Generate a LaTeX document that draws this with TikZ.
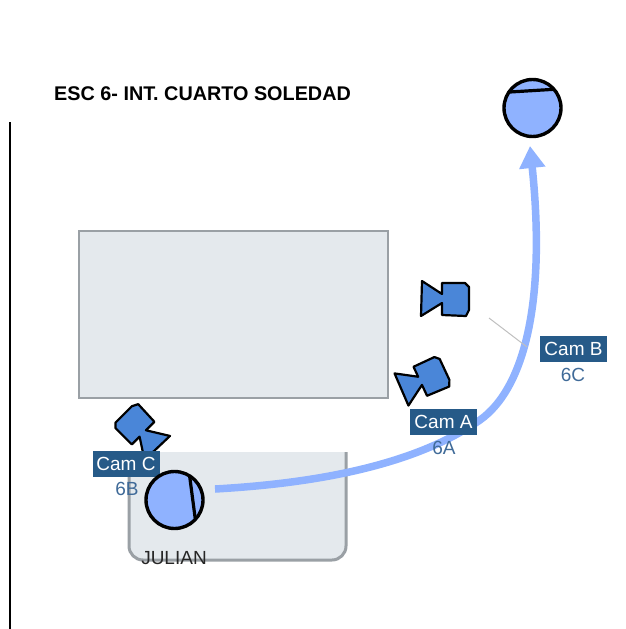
\documentclass[tikz,border=0pt]{standalone}
\usepackage{fontspec}
\setmainfont{Liberation Sans}
\usetikzlibrary{arrows.meta}
\definecolor{setgrey}{HTML}{E4E9ED}
\definecolor{setedge}{HTML}{9AA0A5}
\definecolor{actorblue}{HTML}{8FB2FF}
\definecolor{camblue}{HTML}{4A86D8}
\definecolor{labelblue}{HTML}{265A88}
\definecolor{shotblue}{HTML}{3F6A98}
\newcommand{\labelsize}{\fontsize{19}{19}\selectfont}
% Camera drawn around its centre, lens towards local -x.
\newcommand{\camerashape}[3]{
    \draw[camera, shift={(#1, #2)}, rotate=#3]
        (-23, -18) -- (-3, -5) -- (-3, -16) -- (20, -16) -- (24, -12) -- (24, 11)
        -- (21, 17) -- (-3, 16) -- (-3, 4) -- (-24, 17) -- cycle;
}
\tikzstyle{camera}=[draw=black, fill=camblue, line width=2.2pt, line join=round]
\tikzstyle{actor}=[circle, draw=black, fill=actorblue, line width=3.4pt, inner sep=0, outer sep=0, minimum size=57pt]
\tikzstyle{facing}=[draw=black, line width=3.2pt]
\tikzstyle{furniture}=[fill=setgrey, draw=setedge, line width=2pt]
\tikzstyle{camlabel}=[fill=labelblue, text=white, inner sep=0, minimum width=67pt, minimum height=26pt, font=\labelsize]
\tikzstyle{shotlabel}=[text=shotblue, inner sep=0, font=\labelsize]
\tikzstyle{move}=[draw=actorblue, line width=7.5pt, -{Triangle[length=22pt, width=25pt]}]
\begin{document}
\begin{tikzpicture}[x=1pt, y=-1pt]
        \useasboundingbox (0, 0) rectangle (625, 629);
        \node[font=\bfseries\fontsize{19.8}{20}\selectfont, anchor=west, inner sep=0] (title) at (54, 94) {ESC 6- INT. CUARTO SOLEDAD};
        \coordinate (wallTop) at (10, 122);
        \coordinate (wallBottom) at (10, 629);
        \draw[black, line width=2pt] (wallTop) -- (wallBottom);
        % Furniture
        \draw[furniture] (79, 231) rectangle (388, 398);
        \draw[furniture, rounded corners=14pt, line width=3pt] (129, 452) -- (129, 560) -- (346, 560) -- (346, 452);
        % Movement of the actor
        \coordinate (moveStart) at (215, 489);
        \coordinate (moveMid) at (480, 420);
        \coordinate (moveEnd) at (530, 146);
        \draw[move] (moveStart) .. controls (340, 482) and (425, 458) .. (moveMid)
                    .. controls (525, 388) and (546, 300) .. (moveEnd);
        \coordinate (leaderStart) at (489, 318);
        \coordinate (leaderEnd) at (527, 347);
        \draw[lightgray, line width=1pt] (leaderStart) -- (leaderEnd);
        % Cameras
        \camerashape{445}{299}{0}
        \camerashape{423}{380}{25}
        \camerashape{141}{431}{135}
        \node[camlabel] (camA) at (443.5, 422) {Cam A};
        \node[camlabel] (camB) at (573.5, 349) {Cam B};
        \node[camlabel] (camC) at (126, 463.5) {Cam C};
        \node[shotlabel] (shotA) at (444, 448) {6A};
        \node[shotlabel] (shotC) at (573, 375) {6C};
        \node[shotlabel] (shotB) at (127, 489) {6B};
        % Actors
        \node[actor] (julian) at (174.5, 500) {};
        \draw[facing] (julian.58) -- (julian.-43);
        \node[actor] (soledad) at (532.5, 108) {};
        \draw[facing] (soledad.146) -- (soledad.41);
        \node[font=\labelsize, text=black!85, inner sep=0] (julianName) at (174, 558) {JULIAN};
    \end{tikzpicture}
\end{document}
